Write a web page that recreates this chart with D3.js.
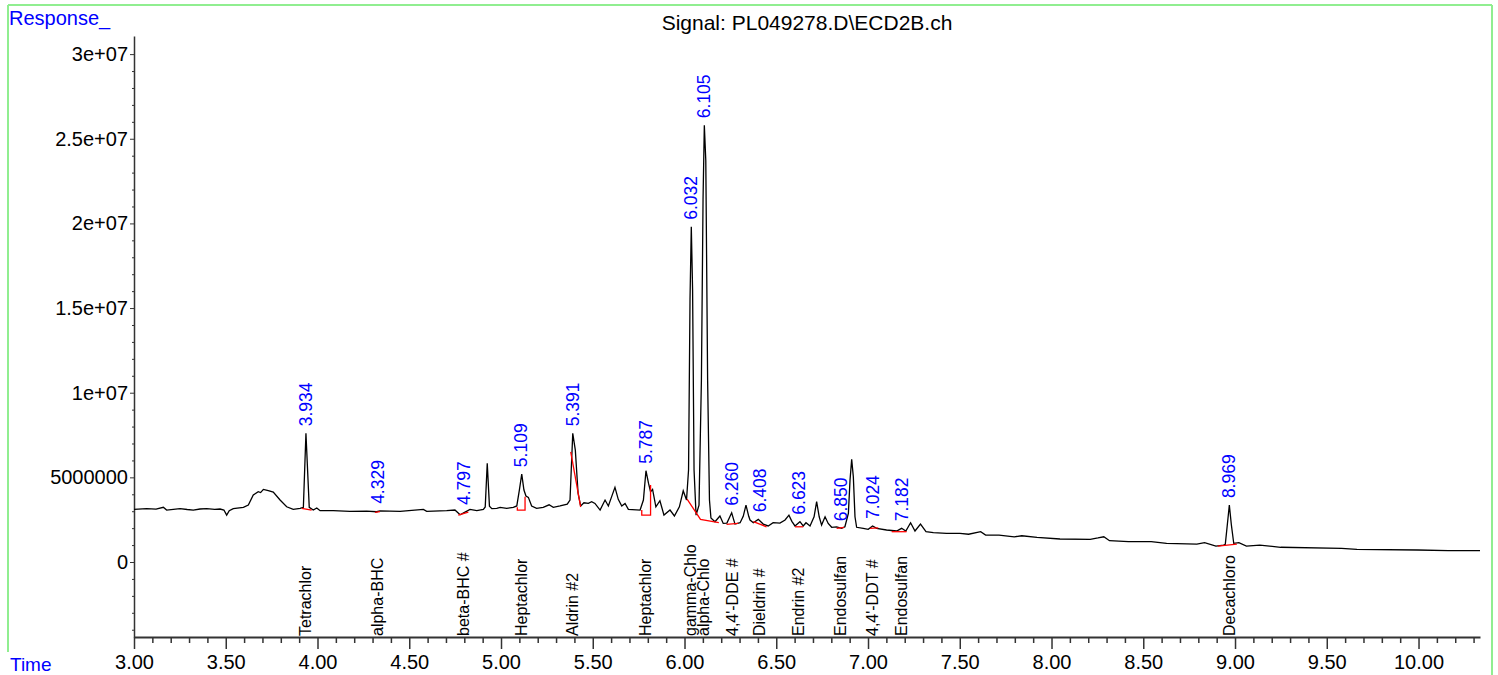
<!DOCTYPE html>
<html lang="en">
<head>
<meta charset="UTF-8">
<title>Signal: PL049278.D\ECD2B.ch</title>
<script src="https://d3js.org/d3.v7.min.js"></script>
<style>
    body { margin: 0; background: #fff; }
    svg { display: block; font-family: "Liberation Sans", Arial, sans-serif; }
    .axis path, .axis line { stroke: #333; }
    .axis text { font-size: 20px; fill: #000; }
    .trace { fill: none; stroke: #000; stroke-width: 1.3px; }
    .baseline { fill: none; stroke: #f00; stroke-width: 1.3px; }
    .rt { font-size: 17.5px; fill: #0000ff; }
    .name { font-size: 16px; fill: #000; }
</style>
</head>
<body>
<div id="chart"></div>
<script>
// retention time (min) and detector response
const traceTime = [
    3.000, 3.069, 3.120, 3.160, 3.178, 3.251, 3.290, 3.323, 3.360, 3.396,
    3.440, 3.469, 3.490, 3.505, 3.519, 3.541, 3.596, 3.623, 3.650, 3.677,
    3.690, 3.705, 3.732, 3.759, 3.796, 3.832, 3.868, 3.905, 3.923, 3.937,
    3.955, 3.977, 3.996, 4.014, 4.086, 4.177, 4.268, 4.322, 4.340, 4.450,
    4.577, 4.595, 4.704, 4.749, 4.777, 4.804, 4.831, 4.868, 4.904, 4.914,
    4.925, 4.937, 4.950, 4.977, 4.995, 5.031, 5.067, 5.086, 5.100, 5.113,
    5.125, 5.136, 5.149, 5.167, 5.194, 5.230, 5.262, 5.285, 5.322, 5.361,
    5.376, 5.391, 5.405, 5.420, 5.434, 5.452, 5.476, 5.494, 5.512, 5.540,
    5.567, 5.585, 5.603, 5.621, 5.639, 5.658, 5.676, 5.694, 5.758, 5.776,
    5.790, 5.804, 5.815, 5.826, 5.844, 5.866, 5.888, 5.921, 5.945, 5.972,
    5.993, 6.011, 6.022, 6.030, 6.037, 6.044, 6.052, 6.063, 6.079, 6.092,
    6.101, 6.108, 6.116, 6.126, 6.136, 6.144, 6.166, 6.193, 6.211, 6.231,
    6.257, 6.275, 6.303, 6.320, 6.335, 6.350, 6.357, 6.375, 6.402, 6.429,
    6.456, 6.483, 6.520, 6.548, 6.569, 6.585, 6.602, 6.629, 6.647, 6.662,
    6.684, 6.706, 6.720, 6.734, 6.747, 6.766, 6.783, 6.802, 6.829, 6.856,
    6.874, 6.893, 6.902, 6.911, 6.920, 6.929, 6.938, 6.974, 7.001, 7.025,
    7.047, 7.101, 7.156, 7.183, 7.206, 7.232, 7.256, 7.286, 7.316, 7.356,
    7.428, 7.501, 7.548, 7.614, 7.641, 7.714, 7.797, 7.838, 7.921, 8.046,
    8.211, 8.253, 8.285, 8.316, 8.419, 8.543, 8.627, 8.792, 8.834, 8.896,
    8.938, 8.947, 8.958, 8.969, 8.980, 8.993, 9.021, 9.062, 9.135, 9.249,
    9.581, 9.664, 9.996, 10.162, 10.335
];
const traceResp = [
    3.11e6, 3.15e6, 3.12e6, 3.23e6, 3.07e6, 3.15e6, 3.10e6, 3.07e6, 3.13e6, 3.15e6,
    3.11e6, 3.13e6, 3.07e6, 2.77e6, 3.03e6, 3.15e6, 3.23e6, 3.36e6, 3.96e6, 4.15e6,
    4.10e6, 4.29e6, 4.21e6, 4.13e6, 3.66e6, 3.26e6, 3.11e6, 3.17e6, 3.23e6, 7.60e6,
    3.23e6, 3.07e6, 3.19e6, 3.03e6, 3.03e6, 2.99e6, 3.01e6, 2.97e6, 3.02e6, 2.99e6,
    3.11e6, 2.99e6, 3.03e6, 3.07e6, 2.79e6, 2.95e6, 3.11e6, 3.03e6, 3.11e6, 3.25e6,
    5.83e6, 3.30e6, 3.15e6, 3.17e6, 3.23e6, 3.17e6, 3.23e6, 3.31e6, 4.25e6, 5.19e6,
    4.25e6, 3.90e6, 3.82e6, 3.31e6, 3.17e6, 3.23e6, 3.38e6, 3.23e6, 3.31e6, 3.42e6,
    3.66e6, 7.60e6, 6.61e6, 4.06e6, 3.31e6, 3.50e6, 3.46e6, 3.56e6, 3.46e6, 3.07e6,
    3.66e6, 3.31e6, 3.86e6, 4.41e6, 3.70e6, 3.31e6, 3.46e6, 3.11e6, 3.07e6, 3.66e6,
    5.39e6, 4.64e6, 4.15e6, 4.29e6, 3.26e6, 3.62e6, 2.77e6, 3.07e6, 2.72e6, 3.26e6,
    4.21e6, 3.66e6, 5.43e6, 1.55e7, 1.98e7, 1.61e7, 5.43e6, 2.77e6, 3.36e6, 1.07e7,
    2.14e7, 2.58e7, 2.37e7, 1.07e7, 3.66e6, 2.60e6, 2.38e6, 2.72e6, 2.28e6, 2.30e6,
    2.91e6, 2.24e6, 2.32e6, 2.70e6, 3.36e6, 2.70e6, 2.48e6, 2.32e6, 2.52e6, 2.24e6,
    2.13e6, 2.32e6, 2.30e6, 2.48e6, 2.77e6, 2.40e6, 2.13e6, 2.38e6, 2.13e6, 2.32e6,
    2.13e6, 2.67e6, 3.56e6, 2.67e6, 2.18e6, 2.67e6, 2.28e6, 2.05e6, 2.08e6, 1.99e6,
    2.08e6, 2.87e6, 4.84e6, 6.06e6, 5.04e6, 2.67e6, 2.05e6, 1.99e6, 1.93e6, 2.13e6,
    1.99e6, 1.89e6, 1.83e6, 1.99e6, 1.83e6, 2.32e6, 1.83e6, 2.24e6, 1.79e6, 1.73e6,
    1.69e6, 1.69e6, 1.64e6, 1.79e6, 1.59e6, 1.59e6, 1.49e6, 1.55e6, 1.46e6, 1.36e6,
    1.34e6, 1.42e6, 1.49e6, 1.26e6, 1.20e6, 1.20e6, 1.10e6, 1.06e6, 1.14e6, 0.94e6,
    1.00e6, 1.05e6, 2.20e6, 3.36e6, 2.20e6, 1.10e6, 1.14e6, 0.94e6, 1.00e6, 0.87e6,
    0.81e6, 0.75e6, 0.71e6, 0.67e6, 0.67e6
];

// integrated peaks
const peakRT = [3.934, 4.329, 4.797, 5.109, 5.391, 5.787, 6.032, 6.105,
                6.260, 6.408, 6.623, 6.850, 7.024, 7.182, 8.969];
const peakName = ["Tetrachlor", "alpha-BHC", "beta-BHC #", "Heptachlor", "Aldrin #2",
                  "Heptachlor", "gamma-Chlo", "alpha-Chlo", "4,4'-DDE #", "Dieldrin #",
                  "Endrin #2", "Endosulfan", "4,4'-DDT #", "Endosulfan", "Decachloro"];

// red integration baselines, [time, response] per vertex
const baselines = [
    [[3.914, 3.17e6], [3.968, 3.07e6]],
    [[4.313, 2.93e6], [4.340, 2.97e6]],
    [[4.767, 2.77e6], [4.822, 2.95e6]],
    [[5.089, 3.23e6], [5.089, 3.07e6], [5.131, 3.07e6], [5.131, 3.86e6]],
    [[5.380, 6.51e6], [5.434, 3.26e6]],
    [[5.767, 3.07e6], [5.767, 2.77e6], [5.815, 2.77e6], [5.815, 4.55e6]],
    [[6.014, 3.72e6], [6.087, 2.52e6], [6.187, 2.32e6]],
    [[6.229, 2.22e6], [6.292, 2.28e6]],
    [[6.375, 2.38e6], [6.447, 2.08e6]],
    [[6.602, 2.08e6], [6.647, 2.08e6]],
    [[6.829, 1.99e6], [6.869, 2.05e6]],
    [[7.011, 1.99e6], [7.056, 2.02e6]],
    [[7.129, 1.79e6], [7.210, 1.79e6]],
    [[8.906, 0.94e6], [9.010, 1.06e6]]
];

const yTickValues = [0, 5e6, 1e7, 1.5e7, 2e7, 2.5e7, 3e7];
const yTickLabels = ["0", "5000000", "1e+07", "1.5e+07", "2e+07", "2.5e+07", "3e+07"];

const W = 1498, H = 675;
const plot = { left: 134, right: 1480, top: 36, bottom: 637 };

const svg = d3.select("#chart").append("svg")
    .attr("width", W)
    .attr("height", H);

svg.append("rect").attr("width", W).attr("height", H).attr("fill", "#fff");

// green frame
const frame = svg.append("g").attr("stroke", "#90ee90").attr("stroke-width", 2);
frame.append("line").attr("x1", 8).attr("x2", 1492).attr("y1", 5).attr("y2", 5);
frame.append("line").attr("x1", 8).attr("x2", 8).attr("y1", 5).attr("y2", 652);
frame.append("line").attr("x1", 1492).attr("x2", 1492).attr("y1", 5).attr("y2", H);

const x = d3.scaleLinear().domain([3.0, 10.335]).range([plot.left, plot.right]);
const y = d3.scaleLinear().domain([-4.43e6, 3.107e7]).range([plot.bottom, plot.top]);

// axes
const yAxis = svg.append("g")
    .attr("class", "axis")
    .attr("transform", `translate(${plot.left},0)`)
    .call(d3.axisLeft(y)
        .tickValues(yTickValues)
        .tickFormat((d, i) => yTickLabels[i])
        .tickSize(4)
        .tickPadding(2)
        .tickSizeOuter(0));
yAxis.select(".domain").attr("stroke-width", 1.5);

svg.append("g")
    .attr("class", "axis")
    .attr("transform", `translate(${plot.left},0)`)
    .call(d3.axisLeft(y)
        .tickValues(d3.range(-4e6, 3.1e7, 1e6).filter(v => v % 5e6 !== 0))
        .tickFormat("")
        .tickSize(2)
        .tickSizeOuter(0))
    .select(".domain").remove();

const xAxis = svg.append("g")
    .attr("class", "axis")
    .attr("transform", `translate(0,${plot.bottom})`)
    .call(d3.axisBottom(x)
        .tickValues(d3.range(3, 10.01, 0.5))
        .tickFormat(d3.format(".2f"))
        .tickSize(12)
        .tickPadding(6)
        .tickSizeOuter(0));
xAxis.select(".domain").attr("stroke-width", 2);
xAxis.selectAll(".tick line").attr("stroke-width", 1.5);

svg.append("g")
    .attr("class", "axis")
    .attr("transform", `translate(0,${plot.bottom})`)
    .call(d3.axisBottom(x)
        .tickValues(d3.range(31, 104, 1).filter(v => v % 5 !== 0).map(v => v / 10))
        .tickFormat("")
        .tickSize(6)
        .tickSizeOuter(0))
    .call(g => g.selectAll(".tick line").attr("stroke-width", 1.5))
    .select(".domain").remove();

// chromatogram trace
const line = d3.line()
    .x((d, i) => x(traceTime[i]))
    .y(d => y(d));

svg.append("path")
    .attr("class", "trace")
    .attr("d", line(traceResp));

svg.selectAll(".baseline")
    .data(baselines)
    .enter().append("path")
    .attr("class", "baseline")
    .attr("d", d3.line().x(d => x(d[0])).y(d => y(d[1])));

// retention time labels sit just above the local apex of the trace
function apex(rt) {
    let best = -Infinity;
    traceTime.forEach((t, i) => {
        if (Math.abs(t - rt) <= 0.015) best = Math.max(best, traceResp[i]);
    });
    return best;
}

svg.selectAll(".rt")
    .data(peakRT)
    .enter().append("text")
    .attr("class", "rt")
    .attr("transform", d => `translate(${x(d)},${y(apex(d)) - 7}) rotate(-90)`)
    .attr("dy", "0.35em")
    .text(d => d.toFixed(3));

svg.selectAll(".name")
    .data(peakRT)
    .enter().append("text")
    .attr("class", "name")
    .attr("transform", d => `translate(${x(d)},${plot.bottom - 1}) rotate(-90)`)
    .attr("dy", "0.35em")
    .text((d, i) => peakName[i]);

// titles
svg.append("text")
    .attr("x", 807).attr("y", 30)
    .attr("text-anchor", "middle")
    .attr("font-size", 21)
    .text("Signal: PL049278.D\\ECD2B.ch");

svg.append("text")
    .attr("x", 9).attr("y", 25)
    .attr("font-size", 20)
    .attr("fill", "#0000ff")
    .text("Response_");

svg.append("text")
    .attr("x", 10).attr("y", 671)
    .attr("font-size", 19)
    .attr("fill", "#0000ff")
    .text("Time");
</script>
</body>
</html>
